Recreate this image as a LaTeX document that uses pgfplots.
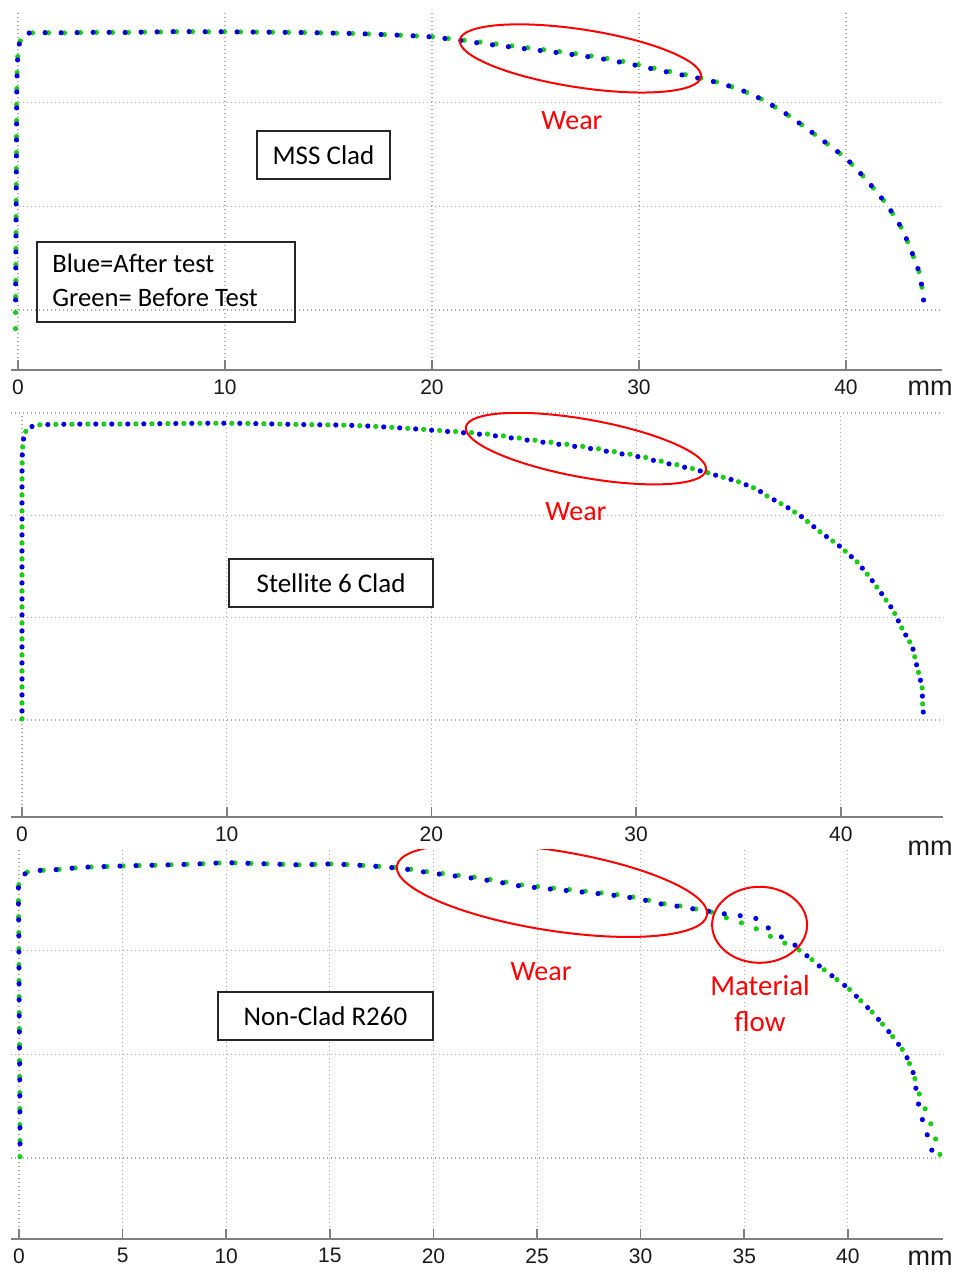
\documentclass[border=0pt]{standalone}
\usepackage{fontspec}
\setmainfont{Carlito}
\newfontfamily\arial{Liberation Sans}
\usepackage{pgfplots}
\pgfplotsset{compat=1.18}
\usetikzlibrary{shapes.geometric}
\definecolor{grn}{RGB}{25,205,25}
\definecolor{blu}{RGB}{0,0,225}
\definecolor{axgray}{RGB}{128,128,128}

\tikzset{
 gdot/.style={draw=grn, line width=2.6pt, line cap=round, dash=on 0pt off 8pt phase 0pt},
 bdot/.style={draw=blu, line width=2.6pt, line cap=round, dash=on 0pt off 8pt phase 4pt},
 boxlab/.style={draw=black!85, line width=0.8pt, fill=white, inner sep=0pt, minimum height=24pt, font=\fontsize{13.5}{15}\selectfont},
 redell/.style={ellipse, draw=red, line width=1pt, inner sep=0pt},
 redtxt/.style={text=red, font=\fontsize{14}{17}\selectfont, align=center},
}
\pgfplotsset{
 prof/.style={scale only axis, axis x line=bottom, axis y line=left,
   every non boxed x axis/.append style={x axis line style={-}},
   every non boxed y axis/.append style={y axis line style={draw=none}},
   x axis line style={-, draw=axgray, line width=1.1pt},
   y axis line style={draw=none},
   tick align=inside, major tick length=5pt,
   xtick style={draw=axgray, line width=0.8pt},
   ytick style={draw=none},
   yticklabels={},
   grid=major,
   grid style={gray!65, line width=0.55pt, dash pattern=on 0.55pt off 1.45pt},
   /pgf/number format/assume math mode=true,
   xticklabel style={font=\arial\fontsize{10.5}{12}\selectfont, yshift=-1.2pt, text=black!90},
   anchor=south west,
 },
}

\begin{document}
\begin{tikzpicture}
\path[use as bounding box] (0,0) rectangle (478.5pt,635.5pt);

% ---------------- Panel 1: MSS Clad ----------------
\begin{axis}[prof, at={(5.5pt,450.5pt)}, width=465.5pt, height=180pt,
  xmin=-0.338, xmax=44.64, ymin=-2.90, ymax=14.49,
  xtick={0,10,20,30,40}, ytick={0,5,10}]
\addplot[gdot] coordinates {(-0.12,-0.90) (-0.11,1) (-0.10,3) (-0.09,5) (-0.08,7) (-0.07,9) (-0.06,10.5) (-0.04,11.6) (-0.01,12.3) (0.05,12.8) (0.15,13.12) (0.30,13.30) (0.55,13.38) (1,13.40) (2,13.38) (3,13.40) (4,13.41) (5,13.40) (6,13.42) (7,13.43) (8,13.45) (9,13.44) (10,13.44) (11,13.43) (12,13.42) (13,13.41) (14,13.40) (15,13.38) (16,13.36) (17,13.33) (18,13.29) (19,13.25) (20,13.20) (21,13.09) (22,12.98) (23,12.86) (24,12.74) (25,12.62) (26,12.50) (27,12.37) (28,12.23) (29,12.05) (30,11.84) (31,11.62) (32,11.42) (33,11.20) (34,10.95) (35,10.60) (36,10.15) (37,9.55) (38,8.85) (39,8.10) (40,7.34) (41,6.28) (42,5.07) (42.75,3.86) (43.2,2.75) (43.55,1.80) (43.72,0.82)};
\addplot[bdot] coordinates {(-0.12,0.10) (-0.10,3) (-0.09,5) (-0.08,7) (-0.07,9) (-0.06,10.5) (-0.04,11.6) (-0.01,12.3) (0.05,12.8) (0.15,13.12) (0.30,13.30) (0.55,13.38) (1,13.40) (2,13.39) (3,13.40) (4,13.42) (5,13.40) (6,13.42) (7,13.44) (8,13.45) (9,13.44) (10,13.44) (11,13.43) (12,13.42) (13,13.41) (14,13.40) (15,13.38) (16,13.36) (17,13.33) (18,13.29) (19,13.25) (20,13.19) (21,13.07) (22,12.93) (23,12.80) (24,12.68) (25,12.56) (26,12.44) (27,12.31) (28,12.17) (29,11.99) (30,11.79) (31,11.57) (32,11.37) (33,11.17) (34,10.94) (35,10.60) (36,10.15) (37,9.55) (38,8.85) (39,8.10) (40,7.34) (41,6.28) (42,5.07) (42.75,3.86) (43.2,2.75) (43.55,1.80) (43.72,0.82) (43.80,-0.14)};
\node[redell, minimum width=122pt, minimum height=29pt, rotate=-8.7] at (axis cs:27.17,12.15) {};
\node[redtxt] at (axis cs:26.76,9.13) {Wear};
\node[boxlab, minimum width=66.5pt] at (axis cs:14.76,7.49) {MSS Clad};
\node[draw=black!85, line width=0.8pt, minimum width=129pt, minimum height=40pt, inner sep=0pt] at (axis cs:7.15,1.35) {};
\node[anchor=west, align=left, inner sep=0pt, font=\fontsize{13.3}{17}\selectfont] at (axis cs:1.64,1.45) {Blue=After test\\Green= Before Test};
\end{axis}

% ---------------- Panel 2: Stellite 6 Clad ----------------
\begin{axis}[prof, at={(5.5pt,227pt)}, width=466pt, height=202pt,
  xmin=-0.537, xmax=44.99, ymin=-4.74, ymax=15,
  xtick={0,10,20,30,40}, ytick={0,5,10,15}]
\addplot[gdot] coordinates {(0,0.05) (0,2) (0,4) (0,6) (0,8) (0,10) (0,12) (0.02,13.2) (0.08,13.75) (0.18,14.10) (0.45,14.33) (0.9,14.43) (2,14.45) (3,14.46) (4,14.46) (5,14.46) (6,14.47) (7,14.48) (8,14.49) (9,14.50) (10,14.50) (11,14.49) (12,14.47) (13,14.45) (14,14.43) (15,14.42) (16,14.40) (17,14.36) (18,14.30) (19,14.24) (20,14.17) (21,14.11) (22,14.04) (23,13.95) (24,13.82) (25,13.68) (26,13.55) (27,13.42) (28,13.28) (29,13.10) (30,12.94) (31.2,12.65) (32.1,12.45) (33.1,12.20) (34.1,11.90) (34.9,11.68) (35.9,11.28) (36.4,10.94) (37.3,10.45) (38.1,9.92) (39.0,9.18) (40.0,8.45) (40.8,7.72) (41.4,6.99) (42.0,6.16) (42.55,5.37) (43.0,4.45) (43.5,3.57) (43.7,2.69) (43.97,1.61) (44.0,0.64)};
\addplot[bdot] coordinates {(0,0.05) (0,2) (0,4) (0,6) (0,8) (0,10) (0,12) (0.02,13.2) (0.08,13.75) (0.18,14.10) (0.45,14.33) (0.9,14.43) (2,14.45) (3,14.46) (4,14.46) (5,14.46) (6,14.47) (7,14.48) (8,14.49) (9,14.50) (10,14.50) (11,14.49) (12,14.47) (13,14.45) (14,14.43) (15,14.42) (16,14.40) (17,14.36) (18,14.30) (19,14.24) (20,14.16) (21,14.08) (22,14.00) (23,13.90) (24,13.77) (25,13.63) (26,13.50) (27,13.37) (28,13.23) (29,13.05) (30,12.89) (31.2,12.60) (32.1,12.41) (33.1,12.18) (34.1,11.90) (34.9,11.68) (35.9,11.28) (36.4,10.94) (37.3,10.45) (38.1,9.92) (39.0,9.18) (40.0,8.45) (40.8,7.72) (41.4,6.99) (42.0,6.16) (42.55,5.37) (43.0,4.45) (43.5,3.57) (43.7,2.69) (43.97,1.61) (44.0,0.64) (44.1,-0.34)};
\node[redell, minimum width=122pt, minimum height=29pt, rotate=-10.2] at (axis cs:27.55,13.26) {};
\node[redtxt] at (axis cs:27.06,10.16) {Wear};
\node[boxlab, minimum width=102pt] at (axis cs:15.1,6.69) {Stellite 6 Clad};
\end{axis}

% ---------------- Panel 3: Non-Clad R260 ----------------
\begin{axis}[prof, at={(5.5pt,16pt)}, width=466pt, height=194.5pt,
  xmin=-0.386, xmax=44.59, ymin=-3.91, ymax=14.86,
  xtick={0,5,10,15,20,25,30,35,40}, ytick={0,5,10}]
\addplot[gdot] coordinates {(0.05,0.06) (0.05,1) (0.04,3) (0.03,5) (0.01,7) (0.0,9) (-0.01,11) (-0.03,12.5) (-0.03,13.1) (0.08,13.5) (0.37,13.79) (0.85,13.87) (1.66,13.90) (3.1,14.03) (5.0,14.09) (7.1,14.14) (8.5,14.18) (10,14.25) (11,14.22) (12,14.19) (13.56,14.14) (15,14.19) (16,14.15) (17,14.09) (18.4,14.00) (19.8,13.80) (21,13.66) (22,13.55) (23,13.40) (24.2,13.18) (25,13.10) (26,13.00) (27,12.91) (28,12.80) (29,12.69) (30,12.53) (30.9,12.30) (31.9,12.16) (32.9,11.97) (33.4,11.87) (34.0,11.63) (34.5,11.49) (35.0,11.29) (35.4,11.15) (35.9,10.90) (36.3,10.67) (36.7,10.52) (37.1,10.28) (37.5,10.13) (38.0,9.80) (38.66,9.23) (40.02,8.19) (41.23,6.98) (42.04,6.02) (42.77,5.05) (43.16,4.09) (43.48,2.96) (43.89,1.99) (44.2,1.03) (44.45,0.14)};
\addplot[bdot] coordinates {(0.05,0.30) (0.04,3) (0.03,5) (0.01,7) (0.0,9) (-0.01,11) (-0.03,12.5) (-0.03,13.1) (0.08,13.5) (0.37,13.79) (0.85,13.87) (1.66,13.90) (3.1,14.03) (5.0,14.09) (7.1,14.14) (8.5,14.18) (10,14.25) (11,14.22) (12,14.19) (13.56,14.14) (15,14.19) (16,14.15) (17,14.09) (18.4,13.98) (19.8,13.76) (21,13.61) (22,13.49) (23,13.34) (24.2,13.12) (25,13.04) (26,12.94) (27,12.85) (28,12.75) (29,12.64) (30,12.49) (30.9,12.27) (31.9,12.13) (32.9,11.96) (33.4,11.89) (33.9,11.80) (34.4,11.73) (34.9,11.68) (35.4,11.63) (35.9,11.40) (36.2,11.05) (36.6,10.76) (37.1,10.52) (37.5,10.23) (37.8,9.94) (38.66,9.23) (40.02,8.19) (41.23,6.98) (42.04,6.02) (42.77,5.05) (43.16,4.09) (43.4,2.64) (43.64,1.67) (43.97,0.71) (44.2,-0.26)};
\node[redell, minimum width=157pt, minimum height=40pt, rotate=-9] at (axis cs:25.72,12.91) {};
\node[redell, minimum width=47.5pt, minimum height=38pt] at (axis cs:35.74,11.25) {};
\node[redtxt] at (axis cs:25.19,8.98) {Wear};
\node[redtxt, font=\fontsize{14.5}{18}\selectfont] at (axis cs:35.76,7.43) {Material\\flow};
\node[boxlab, minimum width=107.5pt] at (axis cs:14.79,6.85) {Non-Clad R260};
\end{axis}

% unit labels
\node[font=\arial\fontsize{13.5}{15}\selectfont, text=black!90] at (465pt,441.5pt) {mm};
\node[font=\arial\fontsize{13.5}{15}\selectfont, text=black!90] at (465pt,211.5pt) {mm};
\node[font=\arial\fontsize{13.5}{15}\selectfont, text=black!90] at (465pt,6.5pt) {mm};
\end{tikzpicture}
\end{document}
